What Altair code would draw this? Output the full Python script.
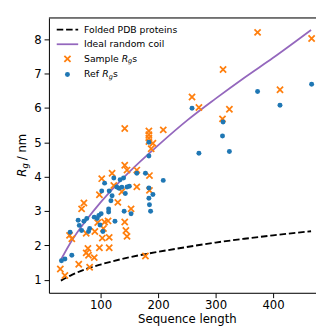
import altair as alt
import pandas as pd

# ---- data ----
sample_n = [30, 38, 46, 50, 62, 67, 71, 75, 75, 78, 79, 81, 89, 90, 95, 98, 98,
            102, 103, 105, 107, 113, 115, 115, 120, 123, 130, 137, 142, 142, 142,
            144, 146, 146, 153, 163, 163, 178, 184, 184, 184, 184, 185, 185, 188,
            191, 209, 259, 271, 312, 313, 324, 373, 412, 467]
sample_rg = [1.31, 1.12, 2.29, 2.19, 1.45, 3.06, 3.23, 2.35, 1.78, 1.91, 1.71,
             1.36, 1.64, 2.40, 2.66, 3.47, 1.93, 3.94, 2.21, 2.49, 2.68, 2.71,
             2.23, 1.93, 4.10, 3.74, 3.25, 3.56, 5.40, 4.33, 2.68, 2.43, 2.26,
             4.19, 3.06, 4.19, 3.70, 1.69, 5.33, 5.22, 5.12, 5.02, 4.03, 3.60,
             4.81, 4.97, 5.36, 6.32, 6.01, 5.68, 7.12, 5.96, 8.20, 6.53, 8.02]

ref_n = [32, 38, 47, 50, 61, 63, 67, 71, 76, 79, 81, 89, 94, 97, 99, 101, 102,
         104, 107, 114, 114, 115, 118, 120, 123, 125, 128, 132, 134, 137, 140,
         141, 143, 146, 150, 153, 163, 178, 184, 184, 184, 184, 185, 187, 191,
         209, 259, 271, 312, 313, 324, 373, 412, 467]
ref_rg = [1.55, 1.60, 2.38, 1.71, 2.73, 2.58, 2.43, 2.70, 2.78, 2.40, 2.49,
          2.82, 2.78, 2.87, 2.59, 2.92, 3.58, 2.40, 3.81, 3.06, 2.97, 3.58,
          3.30, 3.44, 3.96, 2.70, 3.70, 3.66, 3.91, 3.69, 3.96, 2.99, 3.51,
          3.70, 3.72, 2.92, 4.10, 4.10, 5.00, 4.60, 3.67, 3.37, 3.18, 2.99,
          3.48, 3.89, 5.99, 4.68, 5.18, 5.59, 4.73, 6.48, 6.08, 6.69]

line_n = [31, 50, 75, 100, 150, 200, 250, 300, 350, 400, 466]
ideal_rg = [1.58, 2.14, 2.73, 3.25, 4.14, 4.91, 5.63, 6.27, 6.88, 7.46, 8.27]
folded_rg = [0.97, 1.14, 1.31, 1.44, 1.65, 1.81, 1.95, 2.08, 2.19, 2.29, 2.41]

x_ticks = [100, 200, 300, 400]
y_ticks = [1, 2, 3, 4, 5, 6, 7, 8]

W, H = 274, 282
FONT = "DejaVu Sans"

samples = pd.DataFrame({"n": sample_n, "rg": sample_rg})
refs = pd.DataFrame({"n": ref_n, "rg": ref_rg})
lines = pd.DataFrame({"n": line_n, "ideal": ideal_rg, "folded": folded_rg})

xs = alt.Scale(domain=[10.2, 474.6], nice=False, zero=False)
ys = alt.Scale(domain=[0.617, 8.62], nice=False, zero=False)

xax = alt.Axis(values=x_ticks, format="d", title="Sequence length", grid=False,
               labelFontSize=12, titleFontSize=12, titleFontWeight="normal",
               labelColor="black", titleColor="black", domainColor="black",
               tickColor="black", tickSize=5, labelPadding=2, titlePadding=3,
               titleX=141.5, labelFont=FONT, titleFont=FONT)
yax = alt.Axis(values=y_ticks, title=None, grid=False, labelFontSize=12,
               labelColor="black", domainColor="black", tickColor="black",
               tickSize=5, labelPadding=3, labelFont=FONT)

X = alt.X("n:Q", scale=xs, axis=xax)

folded = alt.Chart(lines).mark_line(color="black", strokeWidth=1.9,
                                    strokeDash=[6.7, 2.9], interpolate="monotone").encode(
    x=X, y=alt.Y("folded:Q", scale=ys, axis=yax))
ideal = alt.Chart(lines).mark_line(color="#9467bd", strokeWidth=1.8,
                                   interpolate="monotone").encode(
    x=alt.X("n:Q", scale=xs), y=alt.Y("ideal:Q", scale=ys))
samp = alt.Chart(samples).mark_point(shape="M-1,-1L1,1M-1,1L1,-1", filled=False,
                                     strokeWidth=1.8, size=40, color="#ff7f0e",
                                     opacity=1).encode(
    x=alt.X("n:Q", scale=xs), y=alt.Y("rg:Q", scale=ys))
ref = alt.Chart(refs).mark_circle(size=26, color="#1f77b4", opacity=1).encode(
    x=alt.X("n:Q", scale=xs), y=alt.Y("rg:Q", scale=ys))

dummy = pd.DataFrame({"a": [0]})


def txt(s, x, y, size=9.5, style="normal", angle=0, align="left"):
    return alt.Chart(dummy).mark_text(text=s, font=FONT, fontSize=size,
                                      fontStyle=style, align=align,
                                      baseline="middle", angle=angle,
                                      color="black").encode(
        x=alt.value(x), y=alt.value(y))


top_border = alt.Chart(dummy).mark_rule(color="black", strokeWidth=1).encode(
    x=alt.value(0), x2=alt.value(W), y=alt.value(0))

leg_dash = alt.Chart(dummy).mark_rule(color="black", strokeWidth=1.9,
                                      strokeDash=[6.7, 2.9]).encode(
    x=alt.value(8), x2=alt.value(30), y=alt.value(12))
leg_line = alt.Chart(dummy).mark_rule(color="#9467bd", strokeWidth=1.8).encode(
    x=alt.value(8), x2=alt.value(30), y=alt.value(27))
leg_x = alt.Chart(dummy).mark_point(shape="M-1,-1L1,1M-1,1L1,-1", filled=False,
                                    strokeWidth=1.8, size=40, color="#ff7f0e",
                                    opacity=1).encode(x=alt.value(19), y=alt.value(42))
leg_o = alt.Chart(dummy).mark_circle(size=26, color="#1f77b4", opacity=1).encode(
    x=alt.value(19), y=alt.value(58))

legend_texts = [
    txt("Folded PDB proteins", 36, 12),
    txt("Ideal random coil", 36, 27),
    txt("Sample", 36, 42),
    txt("R", 74.6, 42, style="italic"),
    txt("g", 81.2, 44.5, size=6.7, style="italic"),
    txt("s", 85.5, 42),
    txt("Ref", 36, 58),
    txt("R", 54.8, 58, style="italic"),
    txt("g", 61.4, 60.5, size=6.7, style="italic"),
    txt("s", 65.7, 58),
]

ytitle = [
    txt("R", -28, 163, size=12, style="italic", angle=270),
    txt("g", -24.5, 154.5, size=8.5, style="italic", angle=270),
    txt("/ nm", -28, 146, size=12, angle=270),
]

chart = alt.layer(folded, ideal, samp, ref, top_border, leg_dash, leg_line,
                  leg_x, leg_o, *legend_texts, *ytitle).properties(
    width=W, height=H,
    autosize=alt.AutoSizeParams(type="none"),
    padding={"left": 42, "top": 6, "right": 0, "bottom": 35},
).configure_view(stroke=None).configure(font=FONT)

chart.save("out.html", embed_options={"renderer": "svg", "actions": False})
